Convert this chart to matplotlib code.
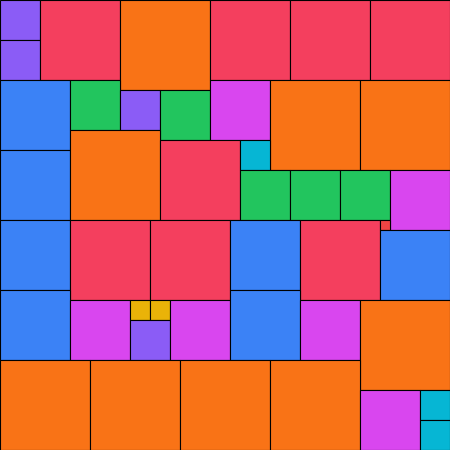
"""
Empaquetado de cuadrados: cada color corresponde a un tamaño de lado.
"""

import matplotlib
matplotlib.use('Agg')
import matplotlib.pyplot as plt

# --- Datos: posición (esquina superior izquierda) y lado de cada cuadrado ---
xs = [0, 0, 40, 120, 210, 290, 370,
      0, 70, 120, 160, 210, 270, 360,
      0, 70, 160, 240, 240, 290, 340, 390,
      0, 70, 150, 230, 300, 380, 380,
      0, 70, 130, 150, 130, 170, 230, 300, 360,
      0, 90, 180, 270, 360, 420, 420]
ys = [0, 40, 0, 0, 0, 0, 0,
      80, 80, 90, 90, 80, 80, 80,
      150, 130, 140, 140, 170, 170, 170, 170,
      220, 220, 220, 220, 220, 220, 230,
      290, 300, 300, 300, 320, 300, 290, 300, 300,
      360, 360, 360, 360, 390, 390, 420]
sides = [40, 40, 80, 90, 80, 80, 80,
         70, 50, 40, 50, 60, 90, 90,
         70, 90, 80, 30, 50, 50, 50, 60,
         70, 80, 80, 70, 80, 10, 70,
         70, 60, 20, 20, 40, 60, 70, 60, 90,
         90, 90, 90, 90, 60, 30, 30]

# Color según el lado
side_colors = {
    90: '#f97316',
    80: '#f43f5e',
    70: '#3b82f6',
    60: '#d946ef',
    50: '#22c55e',
    40: '#8b5cf6',
    30: '#06b6d4',
    20: '#eab308',
    10: '#ef4444',
}
colors = [side_colors[s] for s in sides]

# --- Figura ---
fig = plt.figure(figsize=(4.5, 4.5), dpi=100)
ax = fig.add_axes([0, 0, 1, 1])

ax.bar(xs, sides, width=sides, bottom=ys, align='edge',
       color=colors, edgecolor='black', linewidth=0.8)

ax.set_xlim(0, 450)
ax.set_ylim(450, 0)
ax.axis('off')

plt.savefig('out.png', dpi=100)
